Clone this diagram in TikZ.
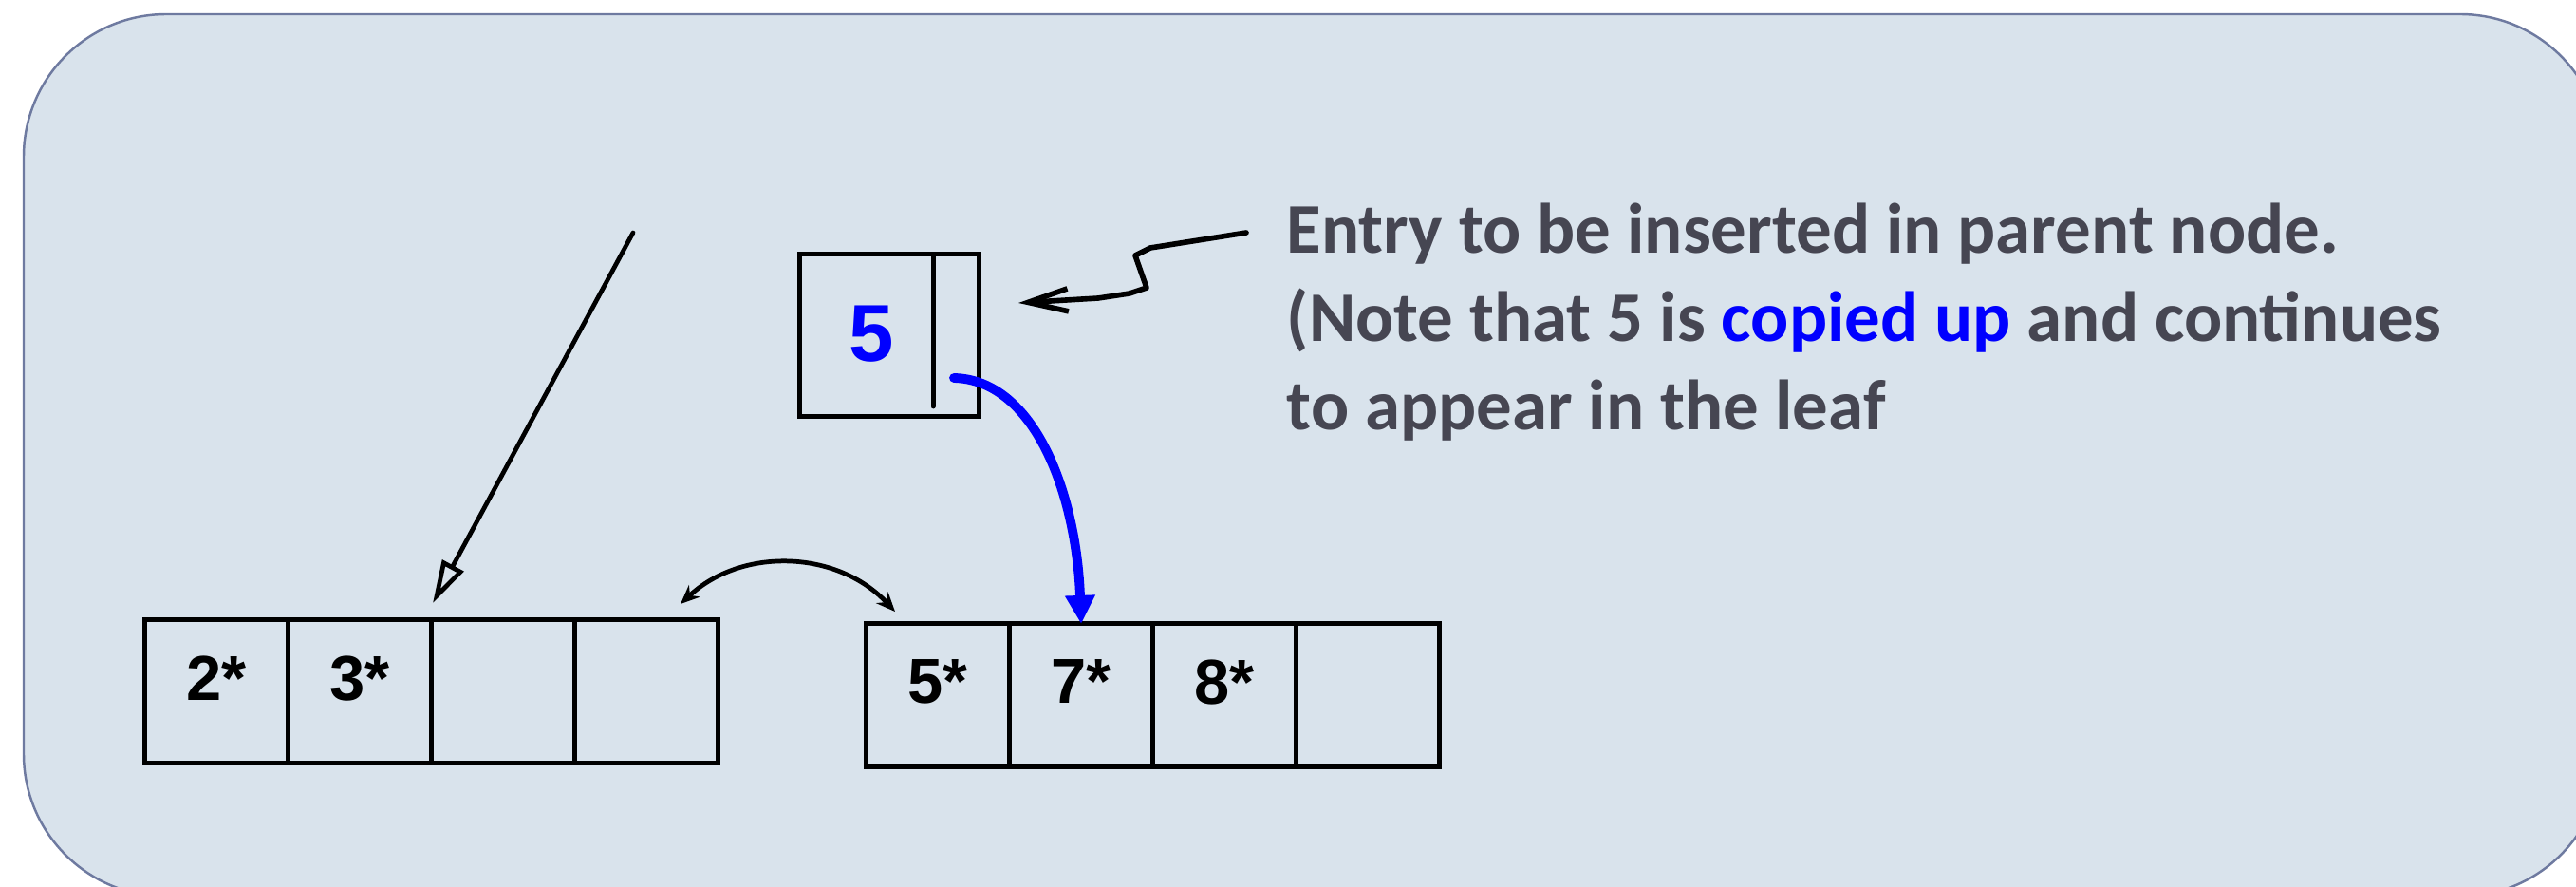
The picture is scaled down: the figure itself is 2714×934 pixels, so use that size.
\documentclass[tikz,border=0pt]{standalone}
\usepackage{fontspec}
\setmainfont{Carlito}
\newfontfamily\arialfont{Liberation Sans}
\usetikzlibrary{arrows.meta,positioning,calc}
\definecolor{panelfill}{RGB}{217,227,236}
\definecolor{paneldraw}{RGB}{110,122,160}
\definecolor{notegray}{RGB}{70,70,82}
\definecolor{copyblue}{RGB}{0,0,255}

\begin{document}
\begin{tikzpicture}[
    x=0.01cm, y=-0.01cm,
    panel/.style={draw=paneldraw,fill=panelfill,line width=0.7pt,rounded corners=1.5cm},
    cell/.style={draw,line width=1.4pt,minimum width=1.51cm,minimum height=1.5cm,
                 outer sep=0pt,inner sep=0pt,text depth=0.28cm,
                 font=\arialfont\bfseries\fontsize{19}{20}\selectfont},
    arr/.style={line width=1.35pt},
    note/.style={anchor=base west,inner sep=0pt,align=left,text=notegray,
                 font=\bfseries\fontsize{21.3}{26.46}\selectfont}
]
\path[use as bounding box] (0,0) rectangle (2714,934);
\clip (0,0) rectangle (2714,934);
\draw[panel] (25,15) rectangle (2742,944);

% Left leaf after the split
\node[cell] (l1) at (228,728) {2*};
\node[cell,right=0pt of l1] (l2) {3*};
\node[cell,right=0pt of l2] (l3) {};
\node[cell,right=0pt of l3] (l4) {};

% Right leaf after the split
\node[cell] (r1) at (988,732) {5*};
\node[cell,right=0pt of r1] (r2) {7*};
\node[cell,right=0pt of r2] (r3) {8*};
\node[cell,right=0pt of r3] (r4) {};

% Entry for the parent node
\node[draw,line width=1.4pt,minimum width=1.88cm,minimum height=1.7cm,outer sep=0pt] (idx) at (937,353) {};
\node[text=copyblue,font=\arialfont\bfseries\fontsize{24.2}{26}\selectfont] (five) at (918,352) {5};
\draw[line width=1.4pt,line cap=round] ($(idx.north east)+(-48,0)$) -- ++(0,160);

% Note (base = last line)
\node[note] (txt) at (1355,453) {Entry to be inserted in parent node.\\
  (Note that 5 is \textcolor{copyblue}{copied up} and continues\\
  to appear in the leaf};

\coordinate (ptr) at (667,245);
\coordinate (ptrend) at (456,635);
\coordinate (sibl) at (717,636);
\coordinate (sibr) at (943,644);
\coordinate (cp) at (1005,398);
\coordinate (nt) at (1313,245);
\coordinate (ntend) at (1073,319);

\draw[arr,line cap=round,-{Triangle[open,length=0.45cm,width=0.25cm]}] (ptr) -- (ptrend);
\draw[arr,{Stealth[length=0.2cm,width=0.17cm]}-{Stealth[length=0.2cm,width=0.17cm]}] (sibl) to[bend left=45] (sibr);
\draw[copyblue,line width=2.8pt,line cap=round,-{Triangle[length=0.3cm,width=0.3cm]}]
  (cp) .. controls (1090,400) and (1134,520) .. (r2.north);
\draw[line width=1.6pt,line join=round,line cap=round,-{Straight Barb[length=0.42cm,width=0.24cm]}]
  (nt) -- (1212,261) -- (1196,269) -- (1208,303) -- (1190,309) -- (1157,314) -- (ntend);
\end{tikzpicture}
\end{document}
